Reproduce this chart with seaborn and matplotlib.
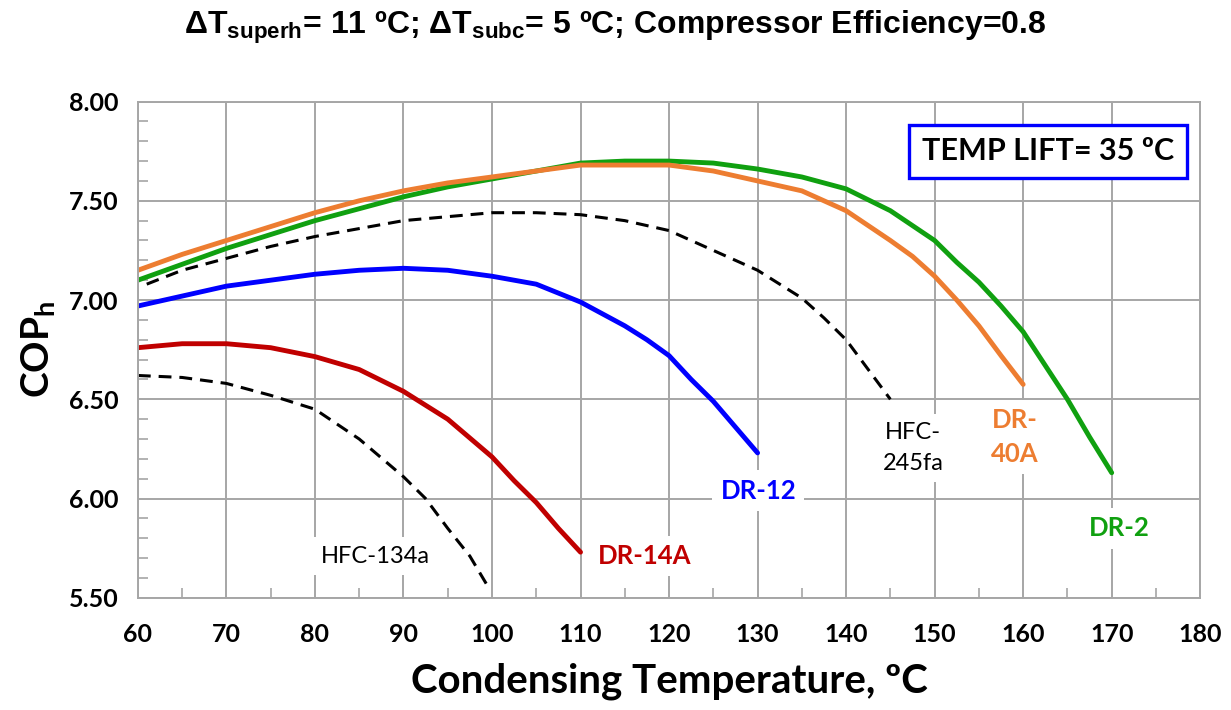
import seaborn as sns
import matplotlib.pyplot as plt
from matplotlib.ticker import MultipleLocator, FormatStrFormatter

# condensing temperature (C) and COP_h
t_dr40a = [60, 65, 70, 75, 80, 85, 90, 95, 100, 105, 110, 115, 120, 125, 130, 135, 140, 145, 147.5,
           150, 152.5, 155, 157.5, 160]
cop_dr40a = [7.15, 7.23, 7.30, 7.37, 7.44, 7.50, 7.55, 7.59, 7.62, 7.65, 7.68, 7.68, 7.68, 7.65, 7.60,
             7.55, 7.45, 7.30, 7.22, 7.12, 7.00, 6.87, 6.72, 6.575]

t_dr2 = [60, 65, 70, 75, 80, 85, 90, 95, 100, 105, 110, 115, 120, 125, 130, 135, 140, 145, 150, 152.5,
         155, 157.5, 160, 162.5, 165, 167.5, 170]
cop_dr2 = [7.10, 7.18, 7.26, 7.33, 7.40, 7.46, 7.52, 7.57, 7.61, 7.65, 7.69, 7.70, 7.70, 7.69, 7.66,
           7.62, 7.56, 7.45, 7.30, 7.19, 7.09, 6.97, 6.84, 6.67, 6.50, 6.31, 6.13]

t_245fa = [61, 65, 70, 75, 80, 85, 90, 95, 100, 105, 110, 115, 120, 125, 130, 135, 137.5, 140, 142.5, 145]
cop_245fa = [7.08, 7.15, 7.21, 7.27, 7.32, 7.36, 7.40, 7.42, 7.44, 7.44, 7.43, 7.40, 7.35, 7.25, 7.15,
             7.01, 6.91, 6.80, 6.65, 6.50]

t_dr12 = [60, 65, 70, 75, 80, 85, 90, 95, 100, 105, 110, 115, 117.5, 120, 122.5, 125, 127.5, 130]
cop_dr12 = [6.97, 7.02, 7.07, 7.10, 7.13, 7.15, 7.16, 7.15, 7.12, 7.08, 6.99, 6.87, 6.80, 6.72, 6.60,
            6.49, 6.36, 6.23]

t_dr14a = [60, 65, 70, 75, 80, 85, 90, 95, 100, 102.5, 105, 107.5, 110]
cop_dr14a = [6.76, 6.78, 6.78, 6.76, 6.715, 6.65, 6.54, 6.40, 6.21, 6.09, 5.98, 5.85, 5.73]

t_134a = [60, 65, 70, 75, 80, 85, 90, 92.5, 95, 97.5, 99.5]
cop_134a = [6.62, 6.61, 6.58, 6.52, 6.45, 6.30, 6.11, 6.00, 5.85, 5.71, 5.56]

sns.set_theme(style="white")
plt.rcParams["font.family"] = ["Lato", "DejaVu Sans"]
plt.rcParams["text.color"] = "black"
plt.rcParams["axes.labelcolor"] = "black"

fig = plt.figure(figsize=(12.31, 7.10), dpi=100)
ax = fig.add_axes([0.112, 0.158, 0.863, 0.699])

dash = (0, (4.2, 2.6))
sns.lineplot(x=t_134a, y=cop_134a, color="black", linestyle=dash, linewidth=2.2, sort=False, ax=ax)
sns.lineplot(x=t_245fa, y=cop_245fa, color="black", linestyle=dash, linewidth=2.2, sort=False, ax=ax)
sns.lineplot(x=t_dr14a, y=cop_dr14a, color="#C00000", linewidth=3.5, sort=False, ax=ax)
sns.lineplot(x=t_dr12, y=cop_dr12, color="#0000FF", linewidth=3.5, sort=False, ax=ax)
sns.lineplot(x=t_dr2, y=cop_dr2, color="#10A010", linewidth=3.5, sort=False, ax=ax)
sns.lineplot(x=t_dr40a, y=cop_dr40a, color="#ED7D31", linewidth=3.5, sort=False, ax=ax)
for ln in ax.lines:
    ln.set_solid_joinstyle("round")
    ln.set_dash_joinstyle("round")

ax.set_xlim(60, 180)
ax.set_ylim(5.5, 8.0)
ax.xaxis.set_major_locator(MultipleLocator(10))
ax.xaxis.set_minor_locator(MultipleLocator(5))
ax.yaxis.set_major_locator(MultipleLocator(0.5))
ax.yaxis.set_minor_locator(MultipleLocator(0.1))
ax.yaxis.set_major_formatter(FormatStrFormatter("%.2f"))
ax.set_axisbelow(True)
ax.grid(True, which="major", color="#a6a6a6", linewidth=1.4)
for s in ax.spines.values():
    s.set_color("#a6a6a6")
    s.set_linewidth(1.4)
ax.tick_params(which="major", length=0, labelsize=18, pad=18, colors="black")
ax.tick_params(which="minor", direction="in", length=7, width=1.2, color="#a6a6a6",
               bottom=True, left=True, top=False, right=False)
ax.tick_params(axis="y", which="major", pad=14)
plt.setp(ax.get_xticklabels() + ax.get_yticklabels(), fontweight="bold")

ax.set_xlabel("Condensing Temperature, ºC", fontsize=29, fontweight="bold", labelpad=12)
ax.set_ylabel("COP$_\\mathregular{h}$", fontsize=28, fontweight="bold", labelpad=8)

fig.text(0.5, 0.962, "ΔT$_\\mathregular{superh}$= 11 ºC; ΔT$_\\mathregular{subc}$= 5 ºC; Compressor Efficiency=0.8",
         ha="center", va="center", fontsize=23, fontweight="bold", color="black",
         family=["Liberation Sans", "DejaVu Sans"])

box = dict(facecolor="white", edgecolor="none", pad=6)
ax.text(86.8, 5.71, "HFC-134a", ha="center", va="center", fontsize=17, color="black", bbox=box)
ax.text(117.2, 5.71, "DR-14A", ha="center", va="center", fontsize=18.5, fontweight="bold",
        color="#C00000", bbox=box)
ax.text(130.1, 6.04, "DR-12", ha="center", va="center", fontsize=18.5, fontweight="bold",
        color="#0000FF", bbox=box)
ax.text(147.6, 6.255, "HFC-\n245fa", ha="center", va="center", fontsize=17, color="black",
        linespacing=1.6, bbox=box)
ax.text(159.0, 6.31, "DR-\n40A", ha="center", va="center", fontsize=18.5, fontweight="bold",
        color="#ED7D31", linespacing=1.5, bbox=box)
ax.text(170.9, 5.85, "DR-2", ha="center", va="center", fontsize=18.5, fontweight="bold",
        color="#10A010", bbox=box)

ax.text(162.8, 7.75, "TEMP LIFT= 35 ºC", ha="center", va="center", fontsize=22, fontweight="bold",
        color="black", bbox=dict(facecolor="white", edgecolor="#0000FF", linewidth=2.4, pad=9))

fig.savefig("out.png", dpi=100)
